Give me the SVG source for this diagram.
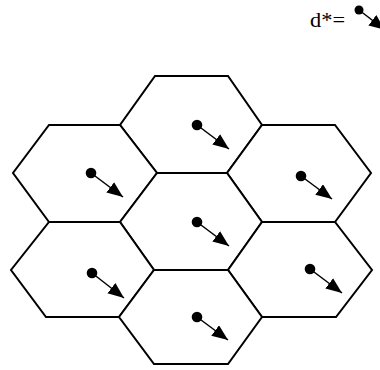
<svg xmlns="http://www.w3.org/2000/svg" width="380" height="370" viewBox="0 0 380 370">
<style>
.hex{fill:#fff;stroke:#000;stroke-width:2;stroke-linejoin:miter}
.dot{fill:#000}
.arr{stroke:#000;stroke-width:1.5;fill:none;marker-end:url(#ah)}
.lbl{font-family:"Liberation Serif","Times New Roman",serif;font-size:21px;fill:#000}
</style>
<defs>
<marker id="ah" markerUnits="userSpaceOnUse" markerWidth="17" markerHeight="14" refX="16" refY="6.5" orient="auto">
<path d="M0,0 L16,6.5 L0,13 z" fill="#000"/>
</marker>
</defs>
<rect width="380" height="370" fill="#fff"/>
<g id="legend">
<text class="lbl" x="310" y="27" textLength="35" lengthAdjust="spacingAndGlyphs">d*=</text>
<circle class="dot" cx="359" cy="10" r="4.5"/>
<line class="arr" x1="359" y1="10" x2="385" y2="30"/>
</g>
<g id="hex-top"><polygon class="hex" points="155,76 228,76 262,125 227,173 157,173 120,125"/><circle class="dot" cx="197" cy="125" r="5.3"/></g>
<g id="hex-upper-left"><polygon class="hex" points="49,125 120,125 157,173 120,222 49,222 13,173"/><circle class="dot" cx="91" cy="173" r="5.3"/></g>
<g id="hex-upper-right"><polygon class="hex" points="262,125 335,125 371,173 335,222 262,222 227,173"/><circle class="dot" cx="301" cy="176" r="5.3"/></g>
<g id="hex-center"><polygon class="hex" points="157,173 227,173 262,222 228,270 154,270 120,222"/><circle class="dot" cx="197" cy="222" r="5.3"/></g>
<g id="hex-lower-left"><polygon class="hex" points="49,222 120,222 154,270 119,317 46,317 11,270"/><circle class="dot" cx="92" cy="273" r="5.3"/></g>
<g id="hex-lower-right"><polygon class="hex" points="262,222 335,222 372,270 336,317 262,317 228,270"/><circle class="dot" cx="310" cy="269" r="5.3"/></g>
<g id="hex-bottom"><polygon class="hex" points="154,270 228,270 262,317 228,364 154,364 119,317"/><circle class="dot" cx="197" cy="317" r="5.3"/></g>
<g id="connectors">
<line class="arr" x1="197" y1="125" x2="229" y2="149"/>
<line class="arr" x1="91" y1="173" x2="123" y2="197"/>
<line class="arr" x1="301" y1="176" x2="332" y2="199"/>
<line class="arr" x1="197" y1="222" x2="229" y2="246"/>
<line class="arr" x1="92" y1="273" x2="124" y2="298"/>
<line class="arr" x1="310" y1="269" x2="342" y2="293"/>
<line class="arr" x1="197" y1="317" x2="228" y2="340"/>
</g>
</svg>
